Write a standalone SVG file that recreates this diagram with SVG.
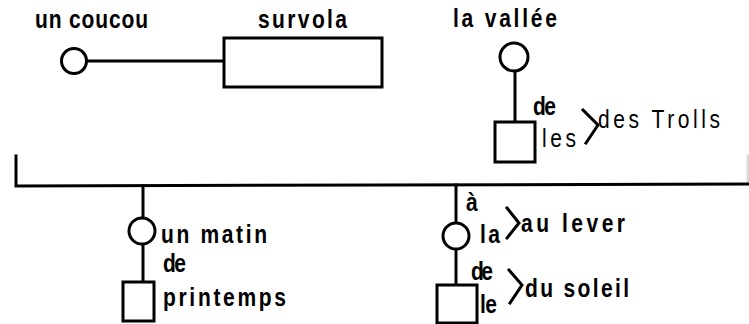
<svg xmlns="http://www.w3.org/2000/svg" width="749" height="324" viewBox="0 0 749 324">
<style>
.ln{stroke:#000;stroke-width:3;fill:none;stroke-linecap:square}
.nd{stroke:#000;stroke-width:3;fill:#fff}
text{font-family:"Liberation Sans",Arial,sans-serif;font-size:21px;fill:#000;font-weight:bold}
.rg{font-weight:normal}
</style>
<rect width="749" height="324" fill="#fff"/>
<g id="connectors">
<line class="ln" x1="87" y1="61" x2="224" y2="61"/>
<line class="ln" x1="515" y1="71" x2="515" y2="122"/>
<polyline class="ln" points="16,156 16,186 749,184"/>
<line class="ln" x1="748" y1="156" x2="748" y2="184" stroke-opacity="0.15"/>
<line class="ln" x1="143" y1="186" x2="143" y2="218"/>
<line class="ln" x1="143" y1="244" x2="143" y2="282"/>
<line class="ln" x1="456" y1="185" x2="456" y2="222"/>
<line class="ln" x1="456" y1="250" x2="456" y2="285"/>
<polyline class="ln" points="583,110 598,125 586,143"/>
<polyline class="ln" points="507,208 519,223 507,238"/>
<polyline class="ln" points="509,270 522,285 510,303"/>
</g>
<g id="un-coucou">
<circle class="nd" cx="74" cy="61" r="12.5"/>
<text transform="translate(35,28) scale(1,1.25)" textLength="113" lengthAdjust="spacing">un coucou</text>
</g>
<g id="survola">
<rect class="nd" x="224" y="38" width="158" height="49"/>
<text transform="translate(258,28) scale(1,1.25)" textLength="89" lengthAdjust="spacing">survola</text>
</g>
<g id="la-vallee">
<circle class="nd" cx="514" cy="57" r="14"/>
<text transform="translate(453,27) scale(1,1.25)" textLength="104" lengthAdjust="spacing">la vallée</text>
</g>
<g id="trolls">
<rect class="nd" x="495" y="122" width="40" height="40"/>
<text transform="translate(533,115) scale(1,1.25)" textLength="23" lengthAdjust="spacing">de</text>
<text class="rg" transform="translate(542,147) scale(1,1.25)" textLength="34" lengthAdjust="spacing">les</text>
<text class="rg" transform="translate(598,128) scale(1,1.25)" textLength="122" lengthAdjust="spacing">des Trolls</text>
</g>
<g id="un-matin">
<circle class="nd" cx="142" cy="231" r="13"/>
<text transform="translate(161,243) scale(1,1.25)" textLength="106" lengthAdjust="spacing">un matin</text>
</g>
<g id="printemps">
<rect class="nd" x="123" y="282" width="31" height="39"/>
<text transform="translate(163,272) scale(1,1.25)" textLength="23" lengthAdjust="spacing">de</text>
<text transform="translate(163,306) scale(1,1.25)" textLength="123" lengthAdjust="spacing">printemps</text>
</g>
<g id="au-lever">
<circle class="nd" cx="456" cy="236" r="13"/>
<text transform="translate(466,211) scale(1,1.25)" textLength="10" lengthAdjust="spacing">à</text>
<text transform="translate(480,243) scale(1,1.25)" textLength="20" lengthAdjust="spacing">la</text>
<text transform="translate(521,232) scale(1,1.25)" textLength="104" lengthAdjust="spacing">au lever</text>
</g>
<g id="du-soleil">
<rect class="nd" x="437" y="285" width="40" height="38"/>
<text transform="translate(471,280) scale(1,1.25)" textLength="22" lengthAdjust="spacing">de</text>
<text transform="translate(480,313) scale(1,1.25)" textLength="17" lengthAdjust="spacing">le</text>
<text transform="translate(525,297) scale(1,1.25)" textLength="104" lengthAdjust="spacing">du soleil</text>
</g>
</svg>
